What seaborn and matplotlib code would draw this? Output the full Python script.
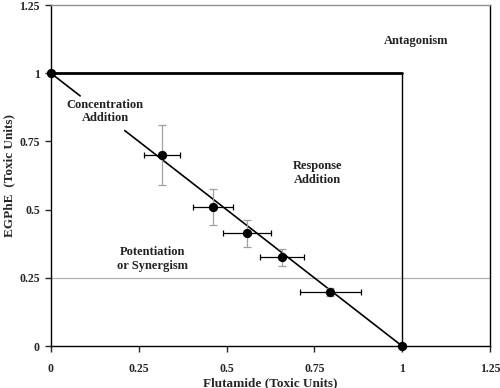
import numpy as np
import matplotlib.pyplot as plt
import seaborn as sns

# mixture points (toxic units)
flutamide = [0.316, 0.461, 0.558, 0.658, 0.795]
egphe = [0.70, 0.51, 0.413, 0.325, 0.197]
flutamide_err = [0.051, 0.058, 0.067, 0.062, 0.087]
egphe_err = [0.11, 0.065, 0.049, 0.03, 0.015]

# single chemical endpoints
end_x = [0, 1]
end_y = [1, 0]

ticks = [0, 0.25, 0.5, 0.75, 1, 1.25]
tick_labels = ['0', '0.25', '0.5', '0.75', '1', '1.25']

sns.set_style('white')
plt.rcParams['font.family'] = ['Liberation Serif', 'DejaVu Serif']

fig = plt.figure(figsize=(5, 3.88), dpi=100)
ax = fig.add_axes([0.102, 0.108, 0.878, 0.879])

# response addition box
ax.plot([0, 1], [1, 1], color='black', lw=2, zorder=2)
ax.plot([1, 1], [1, 0], color='black', lw=1, zorder=2)

# concentration addition line, broken around its label
ax.plot([0, 0.083], [1, 0.917], color='black', lw=1.2, zorder=2)
ax.plot([0.21, 1], [0.79, 0], color='black', lw=1.2, zorder=2)

ax.axhline(0.25, color='#b0b0b0', lw=0.9, zorder=1)

ax.errorbar(flutamide, egphe, yerr=egphe_err, fmt='none', ecolor='#a0a0a0',
            elinewidth=0.9, capsize=3, capthick=0.9, zorder=3)
ax.errorbar(flutamide, egphe, xerr=flutamide_err, fmt='none', ecolor='black',
            elinewidth=0.9, capsize=2.5, capthick=0.9, zorder=3)

sns.scatterplot(x=flutamide + end_x, y=egphe + end_y, ax=ax, color='black',
                s=45, edgecolor='black', linewidth=0, zorder=4, clip_on=False)

txt = dict(fontsize=9, fontweight='bold', ha='center', va='center', color='#222222')
ax.text(0.154, 0.86, 'Concentration\nAddition', **txt)
ax.text(1.04, 1.117, 'Antagonism', **txt)
ax.text(0.76, 0.635, 'Response\nAddition', **txt)
ax.text(0.288, 0.318, 'Potentiation\nor Synergism', **txt)

ax.set_xlim(0, 1.25)
ax.set_ylim(0, 1.25)
ax.set_xticks(ticks)
ax.set_xticklabels(tick_labels)
ax.set_yticks(ticks)
ax.set_yticklabels(tick_labels)
ax.tick_params(axis='both', direction='out', length=4, width=1, labelsize=8.5,
               bottom=True, left=True)
ax.tick_params(axis='x', pad=8)
ax.tick_params(axis='y', pad=4)
for lab in ax.get_xticklabels() + ax.get_yticklabels():
    lab.set_fontweight('bold')

ax.set_xlabel('Flutamide (Toxic Units)', fontsize=9.5, fontweight='bold', labelpad=2)
ax.set_ylabel('EGPhE  (Toxic Units)', fontsize=9.5, fontweight='bold', labelpad=3)

for side in ['left', 'bottom', 'right']:
    ax.spines[side].set_color('black')
    ax.spines[side].set_linewidth(1)
ax.spines['top'].set_color('#909090')
ax.spines['top'].set_linewidth(1)

plt.savefig('out.png', dpi=100)
